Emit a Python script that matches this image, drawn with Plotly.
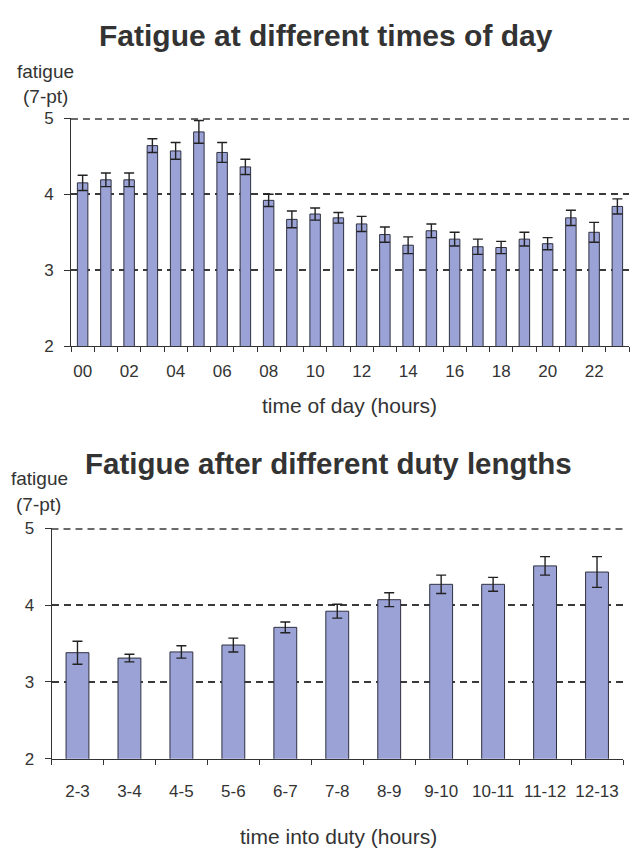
import plotly.graph_objects as go

# Fatigue ratings (7-point scale) by hour of day
hours = ["00", "01", "02", "03", "04", "05", "06", "07", "08", "09", "10", "11",
         "12", "13", "14", "15", "16", "17", "18", "19", "20", "21", "22", "23"]
hour_fatigue = [4.15, 4.19, 4.19, 4.64, 4.57, 4.82, 4.55, 4.36, 3.92, 3.67, 3.74, 3.69,
                3.61, 3.47, 3.33, 3.52, 3.41, 3.31, 3.30, 3.41, 3.35, 3.69, 3.50, 3.84]
hour_err = [0.10, 0.09, 0.09, 0.09, 0.11, 0.15, 0.13, 0.10, 0.08, 0.11, 0.08, 0.07,
            0.10, 0.10, 0.11, 0.09, 0.09, 0.10, 0.08, 0.09, 0.08, 0.10, 0.13, 0.10]

# Fatigue ratings by time into duty
duty = ["2-3", "3-4", "4-5", "5-6", "6-7", "7-8", "8-9", "9-10", "10-11", "11-12", "12-13"]
duty_fatigue = [3.38, 3.31, 3.39, 3.48, 3.71, 3.92, 4.07, 4.27, 4.27, 4.51, 4.43]
duty_err = [0.15, 0.05, 0.08, 0.09, 0.07, 0.09, 0.09, 0.12, 0.09, 0.12, 0.20]

y_ticks = [2, 3, 4, 5]
Y_MAX = 5

W, H = 637, 858
BAR_FILL = "#9aa2d6"
BAR_LINE = "#2f3140"
TEXT = "#333333"
GRID = "#3a3a3a"
DASH = "7px,5px"
FONT = "Liberation Sans, Arial, sans-serif"

fig = go.Figure()

fig.add_trace(go.Bar(
    x=list(range(len(hours))), y=hour_fatigue, width=0.45,
    marker=dict(color=BAR_FILL, line=dict(color=BAR_LINE, width=1)),
    error_y=dict(type="data", array=hour_err, color="#222222", thickness=1.4, width=5),
    xaxis="x", yaxis="y", showlegend=False,
))
fig.add_trace(go.Bar(
    x=list(range(len(duty))), y=duty_fatigue, width=0.44,
    marker=dict(color=BAR_FILL, line=dict(color=BAR_LINE, width=1)),
    error_y=dict(type="data", array=duty_err, color="#222222", thickness=1.4, width=5),
    xaxis="x2", yaxis="y2", showlegend=False,
))


def px_x(a, b):
    return [a / W, b / W]


def px_y(top, bottom):
    return [1 - bottom / H, 1 - top / H]


common_y = dict(
    range=[2, Y_MAX], tickvals=y_ticks, ticks="outside", ticklen=6, tickcolor="#333",
    ticklabelstandoff=7,
    showline=True, linecolor="#333", linewidth=1,
    showgrid=True, gridcolor=GRID, gridwidth=1.5, griddash=DASH,
    zeroline=False, tickfont=dict(size=17, color=TEXT, family=FONT),
)


def x_axis(n, labels_idx, labels, domain, anchor, standoff):
    return dict(
        domain=domain, anchor=anchor, range=[-0.5, n - 0.5],
        tickmode="array", tickvals=labels_idx, ticktext=labels, ticks="",
        ticklabelstandoff=standoff,
        showline=True, linecolor="#333", linewidth=1, showgrid=False, zeroline=False,
        tickfont=dict(size=17, color=TEXT, family=FONT),
        minor=dict(tickmode="array", tickvals=[i - 0.5 for i in range(n + 1)],
                   ticks="outside", ticklen=5, tickcolor="#333", showgrid=False),
    )


top_idx = list(range(0, len(hours), 2))
fig.update_layout(
    width=W, height=H, margin=dict(l=0, r=0, t=0, b=0),
    paper_bgcolor="white", plot_bgcolor="white",
    font=dict(family=FONT, color=TEXT),
    bargap=0.5,
    xaxis=x_axis(len(hours), top_idx, [hours[i] for i in top_idx],
                 px_x(71, 629), "y", 9),
    yaxis=dict(domain=px_y(111.7, 345), anchor="x", **common_y),
    xaxis2=x_axis(len(duty), list(range(len(duty))), duty,
                  px_x(51.5, 623), "y2", 17),
    yaxis2=dict(domain=px_y(531, 766.7), anchor="x2", **common_y),
)

# dashed gridline at the top of each value range (plotly skips grid at the edge);
# the line is clipped to the plot area, so it is drawn twice as thick
for xr, yr in (("x domain", "y"), ("x2 domain", "y2")):
    fig.add_shape(type="line", xref=xr, yref=yr, x0=0, x1=1, y0=Y_MAX, y1=Y_MAX,
                  line=dict(color=GRID, width=3, dash=DASH), layer="below")

annotations = [
    dict(text="<b>Fatigue at different times of day</b>", x=326 / W, y=1 - 27 / H,
         font=dict(size=30)),
    dict(text="<b>Fatigue after different duty lengths</b>", x=328 / W, y=1 - 465 / H,
         font=dict(size=29.5)),
    dict(text="fatigue", x=45 / W, y=1 - 64 / H, font=dict(size=19)),
    dict(text="(7-pt)", x=45 / W, y=1 - 89 / H, font=dict(size=19)),
    dict(text="fatigue", x=39 / W, y=1 - 480 / H, font=dict(size=19)),
    dict(text="(7-pt)", x=38 / W, y=1 - 507 / H, font=dict(size=19)),
    dict(text="time of day (hours)", x=349 / W, y=1 - 405 / H, font=dict(size=21)),
    dict(text="time into duty (hours)", x=338 / W, y=1 - 846 / H, font=dict(size=21)),
]
for a in annotations:
    a["font"].update(family=FONT, color=TEXT)
    fig.add_annotation(xref="paper", yref="paper", showarrow=False,
                       xanchor="center", yanchor="middle", **a)

fig.write_html("out.html")
